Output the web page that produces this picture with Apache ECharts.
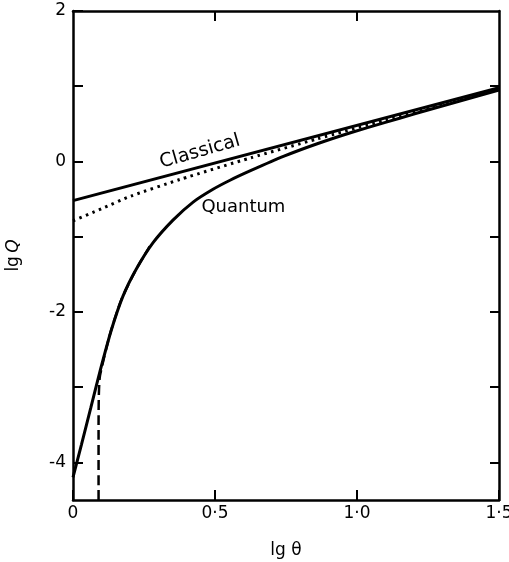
<!DOCTYPE html>
<html>
<head>
<meta charset="utf-8">
<script src="https://cdn.jsdelivr.net/npm/echarts@6/dist/echarts.min.js"></script>
<style>
  html, body { margin: 0; padding: 0; background: #fff; }
  #chart { width: 509px; height: 562px; }
</style>
</head>
<body>
<div id="chart"></div>
<script>
// lg θ values and lg Q readings taken off the figure
const quantumX = [0, 0.03, 0.063, 0.095, 0.135, 0.176, 0.223, 0.282, 0.352, 0.423, 0.493, 0.553, 0.627, 0.743, 0.86, 0.98, 1.1, 1.2, 1.35, 1.5]
const quantumY = [-4.2, -3.76, -3.27, -2.79, -2.24, -1.79, -1.43, -1.08, -0.78, -0.54, -0.37, -0.25, -0.12, 0.07, 0.235, 0.385, 0.52, 0.63, 0.79, 0.95]

const classicalX = [0, 1.5]
const classicalY = [-0.52, 0.98]

const dottedX = [0, 0.1, 0.204, 0.376, 0.627, 0.86, 1.1, 1.3, 1.5]
const dottedY = [-0.79, -0.63, -0.46, -0.24, 0.05, 0.3, 0.55, 0.76, 0.96]

const dashedX = [0.09, 0.09, 0.091, 0.095, 0.13, 0.17, 0.22, 0.27]
const dashedY = [-4.5, -3.5, -3.1, -2.85, -2.3, -1.84, -1.45, -1.13]

const xTicks = [0, 0.5, 1, 1.5]
const yTicks = [-4, -3, -2, -1, 0, 1, 2]
const yLabels = [-4, -2, 0, 2]

const FONT = 'DejaVu Sans'
const INK = '#000'

const pairs = (xs, ys) => xs.map((x, i) => [x, ys[i]])

const chart = echarts.init(document.getElementById('chart'))

const axisLine = { show: true, onZero: false, lineStyle: { color: INK, width: 2.5 } }

const option = {
  animation: false,
  backgroundColor: '#fff',
  grid: { left: 73, right: 10, top: 11, bottom: 62, outerBoundsMode: 'none', containLabel: false },
  xAxis: [
    {
      type: 'value',
      min: 0,
      max: 1.5,
      interval: 0.5,
      name: 'lg θ',
      nameLocation: 'middle',
      nameGap: 42,
      nameTextStyle: { color: INK, fontFamily: FONT, fontSize: 17 },
      axisLine,
      axisTick: { show: true, inside: true, length: 10, customValues: xTicks, lineStyle: { color: INK, width: 2 } },
      axisLabel: {
        color: INK,
        fontFamily: FONT,
        fontSize: 17,
        margin: 5,
        customValues: xTicks,
        formatter: (v) => (v === 0 ? '0' : v.toFixed(1).replace('.', '·')),
      },
      splitLine: { show: false },
    },
    {
      type: 'value',
      position: 'top',
      min: 0,
      max: 1.5,
      interval: 0.5,
      axisLine,
      axisTick: { show: true, inside: true, length: 10, customValues: [0.5, 1], lineStyle: { color: INK, width: 2 } },
      axisLabel: { show: false },
      splitLine: { show: false },
    },
  ],
  yAxis: [
    {
      type: 'value',
      min: -4.5,
      max: 2,
      interval: 0.5,
      name: '{n|lg} {i|Q}',
      nameLocation: 'middle',
      nameGap: 51,
      nameRotate: 90,
      nameTextStyle: {
        color: INK,
        rich: {
          n: { fontFamily: FONT, fontSize: 17, color: INK },
          i: { fontFamily: FONT, fontSize: 17, fontStyle: 'italic', color: INK },
        },
      },
      axisLine,
      axisTick: { show: true, inside: true, length: 10, customValues: yTicks, lineStyle: { color: INK, width: 2 } },
      axisLabel: {
        color: INK,
        fontFamily: FONT,
        fontSize: 17,
        margin: 7,
        customValues: yLabels,
        formatter: (v) => String(v),
      },
      splitLine: { show: false },
    },
    {
      type: 'value',
      position: 'right',
      min: -4.5,
      max: 2,
      interval: 0.5,
      axisLine,
      axisTick: { show: true, inside: true, length: 9, customValues: [-4, -3, -2, -1, 0, 1], lineStyle: { color: INK, width: 2 } },
      axisLabel: { show: false },
      splitLine: { show: false },
    },
  ],
  series: [
    {
      name: 'Quantum',
      type: 'line',
      data: pairs(quantumX, quantumY),
      smooth: 0.2,
      showSymbol: false,
      lineStyle: { color: INK, width: 3 },
      z: 3,
    },
    {
      name: 'Classical',
      type: 'line',
      data: pairs(classicalX, classicalY),
      showSymbol: false,
      lineStyle: { color: INK, width: 3 },
      z: 3,
    },
    {
      name: 'dotted',
      type: 'line',
      data: pairs(dottedX, dottedY),
      smooth: 0.2,
      showSymbol: false,
      lineStyle: { color: INK, width: 3, type: [2.5, 4.5] },
      z: 2,
    },
    {
      name: 'dashed',
      type: 'line',
      data: pairs(dashedX, dashedY),
      smooth: 0.2,
      showSymbol: false,
      lineStyle: { color: INK, width: 2.5, type: [10, 5] },
      z: 4,
    },
  ],
}

chart.setOption(option)

// place the curve captions relative to data coordinates
const classicalPos = chart.convertToPixel({ xAxisIndex: 0, yAxisIndex: 0 }, [0.447, 0.13])
const quantumPos = chart.convertToPixel({ xAxisIndex: 0, yAxisIndex: 0 }, [0.6, -0.61])

chart.setOption({
  graphic: [
    {
      type: 'text',
      x: classicalPos[0],
      y: classicalPos[1],
      rotation: 16 * Math.PI / 180,
      style: {
        text: 'Classical',
        fill: INK,
        font: '19px "' + FONT + '"',
        align: 'center',
        verticalAlign: 'middle',
      },
    },
    {
      type: 'text',
      x: quantumPos[0],
      y: quantumPos[1],
      style: {
        text: 'Quantum',
        fill: INK,
        font: '18px "' + FONT + '"',
        align: 'center',
        verticalAlign: 'middle',
      },
    },
  ],
})
</script>
</body>
</html>
